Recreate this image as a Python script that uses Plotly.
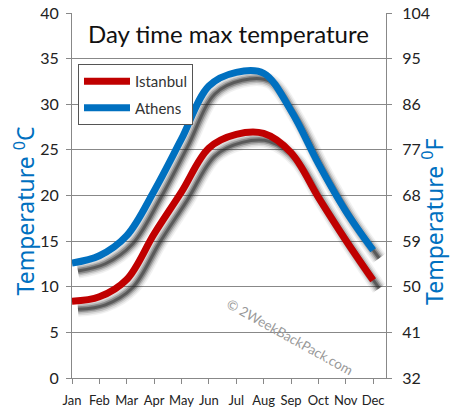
import plotly.graph_objects as go

months = ["Jan", "Feb", "Mar", "Apr", "May", "Jun", "Jul", "Aug", "Sep", "Oct", "Nov", "Dec"]
istanbul = [8.4, 8.9, 10.8, 15.8, 20.4, 25.2, 26.7, 26.8, 24.7, 19.8, 15.1, 10.7]
athens = [12.6, 13.4, 15.6, 20.5, 26.2, 32.0, 33.5, 33.4, 29.3, 23.5, 18.3, 14.0]
c_ticks = [0, 5, 10, 15, 20, 25, 30, 35, 40]
f_ticks = [32, 41, 50, 59, 68, 77, 86, 95, 104]

W, H = 454, 419
L, R, T, B = 72, 68, 13, 41
xr = [0, 11.47]
yr = [0, 40]
PW, PH = W - L - R, H - T - B
px_x = PW / (xr[1] - xr[0])
px_y = PH / (yr[1] - yr[0])
sdx, sdy = 6 / px_x, -8 / px_y  # shadow offset in data units


def fx(p):
    return (p - L) / PW


def fy(p):
    return (H - B - p) / PH


xi = list(range(len(months)))
fig = go.Figure()

# blurred drop shadows
for vals in (istanbul, athens):
    sx = [v + sdx for v in xi]
    sy = [v + sdy for v in vals]
    for w, op in ((15, 0.06), (12, 0.10), (9, 0.18), (6, 0.30), (3, 0.45)):
        fig.add_trace(go.Scatter(x=sx, y=sy, mode="lines", line=dict(color="#222", width=w, shape="spline", smoothing=1.0),
                                 opacity=op, showlegend=False, hoverinfo="skip"))

fig.add_trace(go.Scatter(x=xi, y=istanbul, mode="lines", name="Istanbul", legendgroup="a",
                         line=dict(color="#C00000", width=7, shape="spline", smoothing=1.0)))
fig.add_trace(go.Scatter(x=xi, y=athens, mode="lines", name="Athens", legendgroup="b",
                         line=dict(color="#0070C0", width=7, shape="spline", smoothing=1.0)))
# dummy trace for right axis
fig.add_trace(go.Scatter(x=[None], y=[None], yaxis="y2", showlegend=False, hoverinfo="skip"))

tickfont = dict(family="Lato, sans-serif", size=16, color="#222")
fig.update_layout(
    width=W, height=H,
    margin=dict(l=L, r=R, t=T, b=B, autoexpand=False),
    paper_bgcolor="white", plot_bgcolor="white",
    showlegend=True,
    legend=dict(x=fx(78), y=fy(64), xanchor="left", yanchor="top",
                bgcolor="white", bordercolor="#555", borderwidth=1,
                font=dict(family="Lato, sans-serif", size=15, color="#333"),
                itemwidth=46, tracegroupgap=4),
    xaxis=dict(range=xr, tickvals=xi, ticktext=months, showgrid=False, zeroline=False, automargin=False,
               showline=True, linecolor="#888", linewidth=1, ticks="outside", ticklen=5, tickcolor="#888",
               tickangle=0, ticklabelstandoff=5,
               tickfont=dict(family="Lato, sans-serif", size=13, color="#222")),
    yaxis=dict(range=yr, tickvals=c_ticks, showgrid=True, gridcolor="#888", gridwidth=1, zeroline=False,
               automargin=False, ticklabelstandoff=4,
               showline=True, linecolor="#888", linewidth=1, ticks="outside", ticklen=5, tickcolor="#888",
               tickfont=tickfont),
    yaxis2=dict(range=[32, 104], tickvals=f_ticks, overlaying="y", side="right", showgrid=False, zeroline=False,
                automargin=False, ticklabelstandoff=7,
                showline=True, linecolor="#888", linewidth=1, ticks="outside", ticklen=5, tickcolor="#888",
                tickfont=tickfont),
    annotations=[
        dict(text="Day time max temperature", xref="paper", yref="paper", x=fx(228), y=fy(33),
             xanchor="center", yanchor="middle", showarrow=False,
             font=dict(family="Lato, sans-serif", size=24, color="#111")),
        dict(text="Temperature <sup>0</sup>C", xref="paper", yref="paper", x=fx(24),
             y=fy(298), xanchor="center", yanchor="bottom", textangle=-90, showarrow=False,
             font=dict(family="Noto Sans, sans-serif", size=23, color="#0070C0")),
        dict(text="Temperature <sup>0</sup>F", xref="paper", yref="paper", x=fx(433),
             y=fy(307), xanchor="center", yanchor="bottom", textangle=-90, showarrow=False,
             font=dict(family="Noto Sans, sans-serif", size=23, color="#0070C0")),
        dict(text="© 2WeekBackPack.com", xref="paper", yref="paper", x=fx(290),
             y=fy(337), xanchor="center", yanchor="middle", textangle=29, showarrow=False,
             font=dict(family="Lato, sans-serif", size=13.5, color="#999")),
    ],
)

fig.write_html("out.html", post_script="document.body.style.margin='0';",
               config={"displayModeBar": False})
